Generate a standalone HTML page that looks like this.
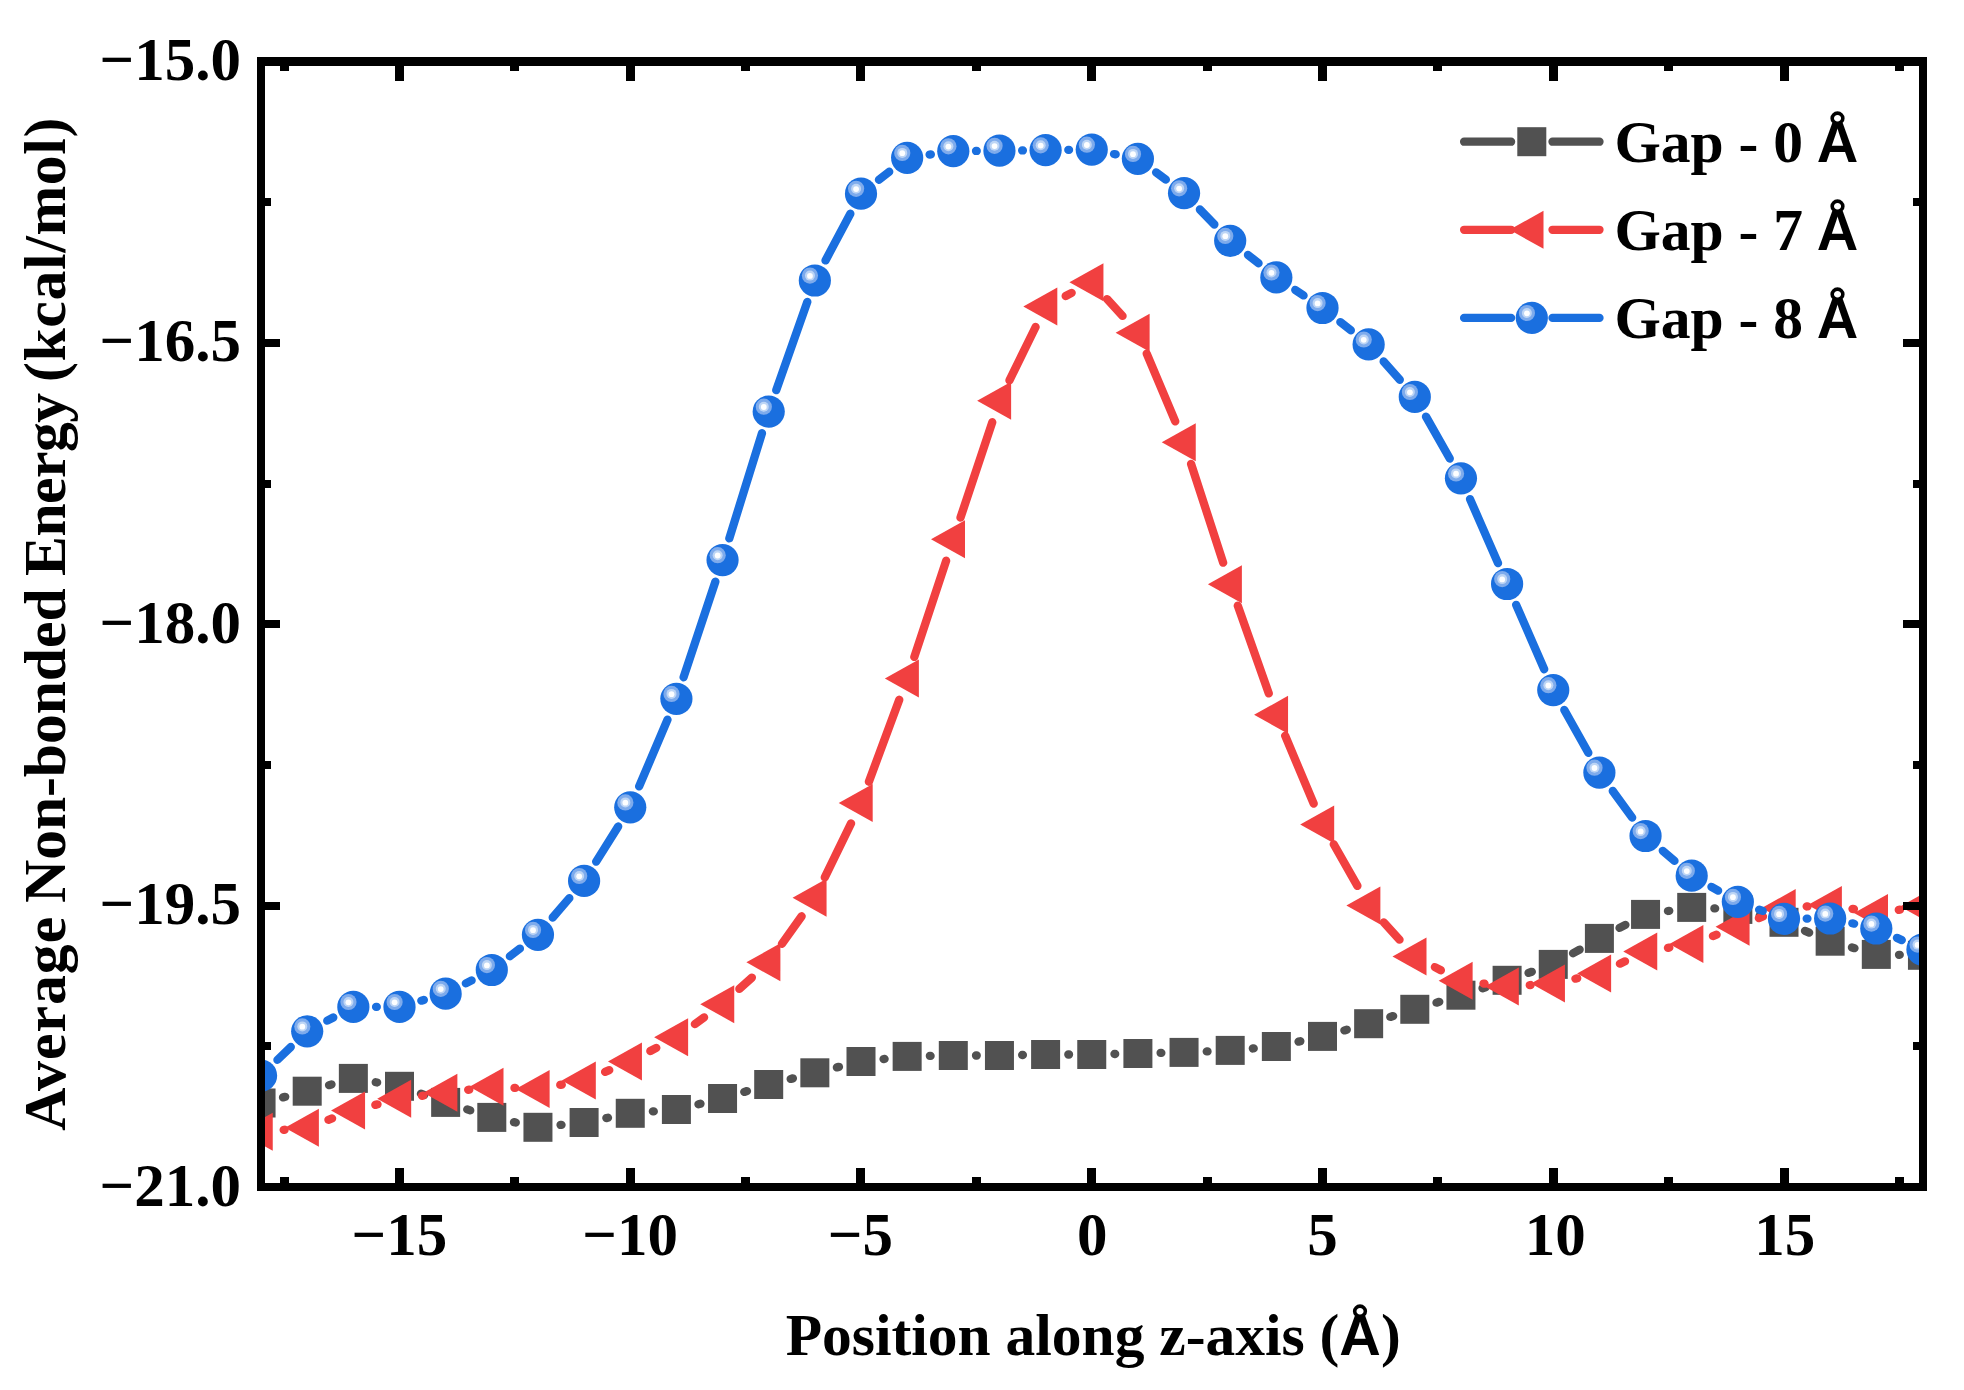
<!DOCTYPE html>
<html lang="en"><head><meta charset="utf-8"><title>Average Non-bonded Energy</title>
<style>html,body{margin:0;padding:0;background:#fff}body{width:1964px;height:1390px;overflow:hidden}svg{display:block}text{font-family:"Liberation Serif",serif;font-weight:bold;fill:#000}.sa{font-family:"Liberation Sans",sans-serif;font-weight:bold;font-size:57.5px}</style></head><body>
<svg width="1964" height="1390" viewBox="0 0 1964 1390">
<rect width="1964" height="1390" fill="#fff"/>
<defs><clipPath id="cp"><rect x="261" y="61.5" width="1662" height="1125.5"/></clipPath></defs>
<g clip-path="url(#cp)">
<path d="M283.04 1097.38L285.21 1096.82M329.07 1085.13L331.48 1084.47M375.72 1082.23L377.13 1082.47M420.93 1093.78L424.22 1094.92M467.24 1109.42L470.21 1110.38M514 1122.16L515.75 1122.54M560.53 1124.95L561.52 1124.85M606.36 1118.06L607.99 1117.74M652.87 1111.44L653.78 1111.36M698.48 1104.24L700.47 1103.76M744.27 1091.91L746.98 1091.09M790.7 1078.92L792.85 1078.38M836.9 1067.4L838.95 1066.9M883.56 1059.01L884.59 1058.89M929.85 1055.96L930.6 1055.94M976 1055.5L976.75 1055.5M1022.14 1055.01L1022.91 1054.99M1068.3 1054.5L1069.05 1054.5M1114.44 1054.01L1115.21 1053.99M1160.59 1052.96L1161.36 1052.94M1206.73 1051.42L1207.52 1051.38M1252.82 1048.49L1253.73 1048.41M1298.53 1041.65L1300.32 1041.25M1344.39 1030.38L1346.76 1029.72M1390.32 1016.94L1393.13 1016.06M1436.51 1002.67L1439.24 1001.83M1482.55 988.23L1485.5 987.27M1528.56 972.91L1531.79 971.79M1573.03 953.26L1579.62 949.54M1619.54 927.93L1625.41 924.87M1667.99 911L1669.26 910.8M1714.38 908.38L1715.17 908.42M1759.71 915.51L1762.14 916.19M1805.01 930.9L1809.14 932.6M1851.97 947.44L1854.48 948.16M1899 954.84L1899.75 954.86" fill="none" stroke="#515151" stroke-width="8.3" stroke-linecap="round"/>
<rect x="246.55" y="1088.5" width="29" height="29" fill="#515151"/><rect x="292.7" y="1076.7" width="29" height="29" fill="#515151"/><rect x="338.85" y="1063.9" width="29" height="29" fill="#515151"/><rect x="385" y="1071.8" width="29" height="29" fill="#515151"/><rect x="431.15" y="1087.9" width="29" height="29" fill="#515151"/><rect x="477.3" y="1102.9" width="29" height="29" fill="#515151"/><rect x="523.45" y="1112.8" width="29" height="29" fill="#515151"/><rect x="569.6" y="1108" width="29" height="29" fill="#515151"/><rect x="615.75" y="1098.8" width="29" height="29" fill="#515151"/><rect x="661.9" y="1095" width="29" height="29" fill="#515151"/><rect x="708.05" y="1084" width="29" height="29" fill="#515151"/><rect x="754.2" y="1070" width="29" height="29" fill="#515151"/><rect x="800.35" y="1058.3" width="29" height="29" fill="#515151"/><rect x="846.5" y="1047" width="29" height="29" fill="#515151"/><rect x="892.65" y="1041.9" width="29" height="29" fill="#515151"/><rect x="938.8" y="1041" width="29" height="29" fill="#515151"/><rect x="984.95" y="1041" width="29" height="29" fill="#515151"/><rect x="1031.1" y="1040" width="29" height="29" fill="#515151"/><rect x="1077.25" y="1040" width="29" height="29" fill="#515151"/><rect x="1123.4" y="1039" width="29" height="29" fill="#515151"/><rect x="1169.55" y="1037.9" width="29" height="29" fill="#515151"/><rect x="1215.7" y="1035.9" width="29" height="29" fill="#515151"/><rect x="1261.85" y="1032" width="29" height="29" fill="#515151"/><rect x="1308" y="1021.9" width="29" height="29" fill="#515151"/><rect x="1354.15" y="1009.2" width="29" height="29" fill="#515151"/><rect x="1400.3" y="994.8" width="29" height="29" fill="#515151"/><rect x="1446.45" y="980.7" width="29" height="29" fill="#515151"/><rect x="1492.6" y="965.8" width="29" height="29" fill="#515151"/><rect x="1538.75" y="949.9" width="29" height="29" fill="#515151"/><rect x="1584.9" y="923.9" width="29" height="29" fill="#515151"/><rect x="1631.05" y="899.9" width="29" height="29" fill="#515151"/><rect x="1677.2" y="892.9" width="29" height="29" fill="#515151"/><rect x="1723.35" y="894.9" width="29" height="29" fill="#515151"/><rect x="1769.5" y="907.8" width="29" height="29" fill="#515151"/><rect x="1815.65" y="926.7" width="29" height="29" fill="#515151"/><rect x="1861.8" y="939.9" width="29" height="29" fill="#515151"/><rect x="1907.95" y="940.8" width="29" height="29" fill="#515151"/>
<path d="M283.67 1129.84L284.58 1129.76M328.46 1119.83L332.09 1118.47M375.34 1104.88L377.51 1104.32M422.01 1095.77L423.14 1095.63M468.17 1089.82L469.28 1089.68M514.47 1087.93L515.28 1087.97M560.27 1084.94L561.78 1084.66M605.11 1071.9L609.24 1070.2M650.34 1051.02L656.31 1047.88M694.85 1024.07L704.1 1017.43M739.36 988.94L751.89 977.56M781.91 943.84L801.64 916.26M824.79 877.39L851.06 823.41M868.89 781.72L899.26 699.78M914.29 656.95L946.16 560.75M960.48 517.66L992.27 422.24M1009.45 380.32L1035.6 326.98M1065.69 296.02L1071.66 292.88M1107.08 299.04L1122.57 315.96M1146.71 353.62L1175.24 421.38M1191.07 463.89L1223.18 562.71M1237.77 605.7L1268.78 693.4M1285.15 735.73L1313.7 803.67M1333.74 844.32L1357.41 885.88M1383.9 922.42L1399.55 939.68M1434.89 967.08L1440.86 970.22M1483.48 983.58L1484.57 983.72M1529.76 985.08L1530.59 985.02M1575.42 978.7L1577.23 978.3M1619.93 963.7L1625.02 961.3M1667.95 947.91L1669.3 947.69M1712.96 936.03L1716.59 934.67M1758.89 918.18L1762.96 916.52M1806.65 906.48L1807.5 906.42M1852.51 908.82L1853.94 909.08M1898.78 909.88L1899.97 909.72" fill="none" stroke="#F14040" stroke-width="8.3" stroke-linecap="round"/>
<path d="M238.75 1131.8L272.75 1112.8L272.75 1150.8Z" fill="#F14040"/><path d="M284.9 1127.8L318.9 1108.8L318.9 1146.8Z" fill="#F14040"/><path d="M331.05 1110.5L365.05 1091.5L365.05 1129.5Z" fill="#F14040"/><path d="M377.2 1098.7L411.2 1079.7L411.2 1117.7Z" fill="#F14040"/><path d="M423.35 1092.7L457.35 1073.7L457.35 1111.7Z" fill="#F14040"/><path d="M469.5 1086.8L503.5 1067.8L503.5 1105.8Z" fill="#F14040"/><path d="M515.65 1089.1L549.65 1070.1L549.65 1108.1Z" fill="#F14040"/><path d="M561.8 1080.5L595.8 1061.5L595.8 1099.5Z" fill="#F14040"/><path d="M607.95 1061.6L641.95 1042.6L641.95 1080.6Z" fill="#F14040"/><path d="M654.1 1037.3L688.1 1018.3L688.1 1056.3Z" fill="#F14040"/><path d="M700.25 1004.2L734.25 985.2L734.25 1023.2Z" fill="#F14040"/><path d="M746.4 962.3L780.4 943.3L780.4 981.3Z" fill="#F14040"/><path d="M792.55 897.8L826.55 878.8L826.55 916.8Z" fill="#F14040"/><path d="M838.7 803L872.7 784L872.7 822Z" fill="#F14040"/><path d="M884.85 678.5L918.85 659.5L918.85 697.5Z" fill="#F14040"/><path d="M931 539.2L965 520.2L965 558.2Z" fill="#F14040"/><path d="M977.15 400.7L1011.15 381.7L1011.15 419.7Z" fill="#F14040"/><path d="M1023.3 306.6L1057.3 287.6L1057.3 325.6Z" fill="#F14040"/><path d="M1069.45 282.3L1103.45 263.3L1103.45 301.3Z" fill="#F14040"/><path d="M1115.6 332.7L1149.6 313.7L1149.6 351.7Z" fill="#F14040"/><path d="M1161.75 442.3L1195.75 423.3L1195.75 461.3Z" fill="#F14040"/><path d="M1207.9 584.3L1241.9 565.3L1241.9 603.3Z" fill="#F14040"/><path d="M1254.05 714.8L1288.05 695.8L1288.05 733.8Z" fill="#F14040"/><path d="M1300.2 824.6L1334.2 805.6L1334.2 843.6Z" fill="#F14040"/><path d="M1346.35 905.6L1380.35 886.6L1380.35 924.6Z" fill="#F14040"/><path d="M1392.5 956.5L1426.5 937.5L1426.5 975.5Z" fill="#F14040"/><path d="M1438.65 980.8L1472.65 961.8L1472.65 999.8Z" fill="#F14040"/><path d="M1484.8 986.5L1518.8 967.5L1518.8 1005.5Z" fill="#F14040"/><path d="M1530.95 983.6L1564.95 964.6L1564.95 1002.6Z" fill="#F14040"/><path d="M1577.1 973.4L1611.1 954.4L1611.1 992.4Z" fill="#F14040"/><path d="M1623.25 951.6L1657.25 932.6L1657.25 970.6Z" fill="#F14040"/><path d="M1669.4 944L1703.4 925L1703.4 963Z" fill="#F14040"/><path d="M1715.55 926.7L1749.55 907.7L1749.55 945.7Z" fill="#F14040"/><path d="M1761.7 908L1795.7 889L1795.7 927Z" fill="#F14040"/><path d="M1807.85 904.9L1841.85 885.9L1841.85 923.9Z" fill="#F14040"/><path d="M1854 913L1888 894L1888 932Z" fill="#F14040"/><path d="M1900.15 906.6L1934.15 887.6L1934.15 925.6Z" fill="#F14040"/>
<path d="M277.43 1059.88L290.82 1047.02M327.27 1020.69L333.28 1017.51M376.05 1006.9L376.8 1006.9M421.32 1000.66L423.83 999.94M465.84 983.33L471.61 980.37M509.85 956.23L519.9 948.57M552.71 917.56L569.34 898.14M596.16 861.67L618.19 826.53M639.14 786.41L667.51 719.69M683.57 677.26L715.38 581.64M729.29 538.42L761.96 433.28M776.24 390.19L807.31 301.91M825.51 260.46L850.34 213.74M878.92 179.76L889.23 171.74M929.62 154.59L930.83 154.41M976 150.95L976.75 150.95M1022.15 150.45L1022.9 150.45M1068.3 149.9L1069.05 149.9M1114.01 154.04L1115.64 154.36M1156.1 172.37L1165.85 179.63M1199.85 209.5L1214.4 224.5M1247.99 254.91L1258.56 263.29M1295.27 289.94L1303.58 295.46M1340.32 322.06L1350.83 330.34M1383.64 361.45L1399.81 379.85M1426 416.65L1449.75 458.55M1470.03 499.1L1498.02 563.2M1516.15 604.82L1544.2 669.28M1564.33 709.91L1588.32 752.79M1612.76 790.95L1632.19 817.65M1662.76 850.8L1674.49 860.9M1711.46 886.87L1718.09 890.63M1759.15 909.65L1762.7 910.95M1806.7 918.65L1807.45 918.65M1852.34 923.31L1854.11 923.69M1896.96 937.9L1901.79 940.1" fill="none" stroke="#1A6FDF" stroke-width="8.3" stroke-linecap="round"/>
<circle cx="261.05" cy="1075.6" r="16.1" fill="#1A6FDF"/><circle cx="256.15" cy="1070.7" r="8.1" fill="#7EABEC"/><circle cx="256.15" cy="1070.7" r="5" fill="#BDD5F5"/><circle cx="256.15" cy="1071" r="2.9" fill="#FDFEFF"/><circle cx="307.2" cy="1031.3" r="16.1" fill="#1A6FDF"/><circle cx="302.3" cy="1026.4" r="8.1" fill="#7EABEC"/><circle cx="302.3" cy="1026.4" r="5" fill="#BDD5F5"/><circle cx="302.3" cy="1026.7" r="2.9" fill="#FDFEFF"/><circle cx="353.35" cy="1006.9" r="16.1" fill="#1A6FDF"/><circle cx="348.45" cy="1002" r="8.1" fill="#7EABEC"/><circle cx="348.45" cy="1002" r="5" fill="#BDD5F5"/><circle cx="348.45" cy="1002.3" r="2.9" fill="#FDFEFF"/><circle cx="399.5" cy="1006.9" r="16.1" fill="#1A6FDF"/><circle cx="394.6" cy="1002" r="8.1" fill="#7EABEC"/><circle cx="394.6" cy="1002" r="5" fill="#BDD5F5"/><circle cx="394.6" cy="1002.3" r="2.9" fill="#FDFEFF"/><circle cx="445.65" cy="993.7" r="16.1" fill="#1A6FDF"/><circle cx="440.75" cy="988.8" r="8.1" fill="#7EABEC"/><circle cx="440.75" cy="988.8" r="5" fill="#BDD5F5"/><circle cx="440.75" cy="989.1" r="2.9" fill="#FDFEFF"/><circle cx="491.8" cy="970" r="16.1" fill="#1A6FDF"/><circle cx="486.9" cy="965.1" r="8.1" fill="#7EABEC"/><circle cx="486.9" cy="965.1" r="5" fill="#BDD5F5"/><circle cx="486.9" cy="965.4" r="2.9" fill="#FDFEFF"/><circle cx="537.95" cy="934.8" r="16.1" fill="#1A6FDF"/><circle cx="533.05" cy="929.9" r="8.1" fill="#7EABEC"/><circle cx="533.05" cy="929.9" r="5" fill="#BDD5F5"/><circle cx="533.05" cy="930.2" r="2.9" fill="#FDFEFF"/><circle cx="584.1" cy="880.9" r="16.1" fill="#1A6FDF"/><circle cx="579.2" cy="876" r="8.1" fill="#7EABEC"/><circle cx="579.2" cy="876" r="5" fill="#BDD5F5"/><circle cx="579.2" cy="876.3" r="2.9" fill="#FDFEFF"/><circle cx="630.25" cy="807.3" r="16.1" fill="#1A6FDF"/><circle cx="625.35" cy="802.4" r="8.1" fill="#7EABEC"/><circle cx="625.35" cy="802.4" r="5" fill="#BDD5F5"/><circle cx="625.35" cy="802.7" r="2.9" fill="#FDFEFF"/><circle cx="676.4" cy="698.8" r="16.1" fill="#1A6FDF"/><circle cx="671.5" cy="693.9" r="8.1" fill="#7EABEC"/><circle cx="671.5" cy="693.9" r="5" fill="#BDD5F5"/><circle cx="671.5" cy="694.2" r="2.9" fill="#FDFEFF"/><circle cx="722.55" cy="560.1" r="16.1" fill="#1A6FDF"/><circle cx="717.65" cy="555.2" r="8.1" fill="#7EABEC"/><circle cx="717.65" cy="555.2" r="5" fill="#BDD5F5"/><circle cx="717.65" cy="555.5" r="2.9" fill="#FDFEFF"/><circle cx="768.7" cy="411.6" r="16.1" fill="#1A6FDF"/><circle cx="763.8" cy="406.7" r="8.1" fill="#7EABEC"/><circle cx="763.8" cy="406.7" r="5" fill="#BDD5F5"/><circle cx="763.8" cy="407" r="2.9" fill="#FDFEFF"/><circle cx="814.85" cy="280.5" r="16.1" fill="#1A6FDF"/><circle cx="809.95" cy="275.6" r="8.1" fill="#7EABEC"/><circle cx="809.95" cy="275.6" r="5" fill="#BDD5F5"/><circle cx="809.95" cy="275.9" r="2.9" fill="#FDFEFF"/><circle cx="861" cy="193.7" r="16.1" fill="#1A6FDF"/><circle cx="856.1" cy="188.8" r="8.1" fill="#7EABEC"/><circle cx="856.1" cy="188.8" r="5" fill="#BDD5F5"/><circle cx="856.1" cy="189.1" r="2.9" fill="#FDFEFF"/><circle cx="907.15" cy="157.8" r="16.1" fill="#1A6FDF"/><circle cx="902.25" cy="152.9" r="8.1" fill="#7EABEC"/><circle cx="902.25" cy="152.9" r="5" fill="#BDD5F5"/><circle cx="902.25" cy="153.2" r="2.9" fill="#FDFEFF"/><circle cx="953.3" cy="151.2" r="16.1" fill="#1A6FDF"/><circle cx="948.4" cy="146.3" r="8.1" fill="#7EABEC"/><circle cx="948.4" cy="146.3" r="5" fill="#BDD5F5"/><circle cx="948.4" cy="146.6" r="2.9" fill="#FDFEFF"/><circle cx="999.45" cy="150.7" r="16.1" fill="#1A6FDF"/><circle cx="994.55" cy="145.8" r="8.1" fill="#7EABEC"/><circle cx="994.55" cy="145.8" r="5" fill="#BDD5F5"/><circle cx="994.55" cy="146.1" r="2.9" fill="#FDFEFF"/><circle cx="1045.6" cy="150.2" r="16.1" fill="#1A6FDF"/><circle cx="1040.7" cy="145.3" r="8.1" fill="#7EABEC"/><circle cx="1040.7" cy="145.3" r="5" fill="#BDD5F5"/><circle cx="1040.7" cy="145.6" r="2.9" fill="#FDFEFF"/><circle cx="1091.75" cy="149.6" r="16.1" fill="#1A6FDF"/><circle cx="1086.85" cy="144.7" r="8.1" fill="#7EABEC"/><circle cx="1086.85" cy="144.7" r="5" fill="#BDD5F5"/><circle cx="1086.85" cy="145" r="2.9" fill="#FDFEFF"/><circle cx="1137.9" cy="158.8" r="16.1" fill="#1A6FDF"/><circle cx="1133" cy="153.9" r="8.1" fill="#7EABEC"/><circle cx="1133" cy="153.9" r="5" fill="#BDD5F5"/><circle cx="1133" cy="154.2" r="2.9" fill="#FDFEFF"/><circle cx="1184.05" cy="193.2" r="16.1" fill="#1A6FDF"/><circle cx="1179.15" cy="188.3" r="8.1" fill="#7EABEC"/><circle cx="1179.15" cy="188.3" r="5" fill="#BDD5F5"/><circle cx="1179.15" cy="188.6" r="2.9" fill="#FDFEFF"/><circle cx="1230.2" cy="240.8" r="16.1" fill="#1A6FDF"/><circle cx="1225.3" cy="235.9" r="8.1" fill="#7EABEC"/><circle cx="1225.3" cy="235.9" r="5" fill="#BDD5F5"/><circle cx="1225.3" cy="236.2" r="2.9" fill="#FDFEFF"/><circle cx="1276.35" cy="277.4" r="16.1" fill="#1A6FDF"/><circle cx="1271.45" cy="272.5" r="8.1" fill="#7EABEC"/><circle cx="1271.45" cy="272.5" r="5" fill="#BDD5F5"/><circle cx="1271.45" cy="272.8" r="2.9" fill="#FDFEFF"/><circle cx="1322.5" cy="308" r="16.1" fill="#1A6FDF"/><circle cx="1317.6" cy="303.1" r="8.1" fill="#7EABEC"/><circle cx="1317.6" cy="303.1" r="5" fill="#BDD5F5"/><circle cx="1317.6" cy="303.4" r="2.9" fill="#FDFEFF"/><circle cx="1368.65" cy="344.4" r="16.1" fill="#1A6FDF"/><circle cx="1363.75" cy="339.5" r="8.1" fill="#7EABEC"/><circle cx="1363.75" cy="339.5" r="5" fill="#BDD5F5"/><circle cx="1363.75" cy="339.8" r="2.9" fill="#FDFEFF"/><circle cx="1414.8" cy="396.9" r="16.1" fill="#1A6FDF"/><circle cx="1409.9" cy="392" r="8.1" fill="#7EABEC"/><circle cx="1409.9" cy="392" r="5" fill="#BDD5F5"/><circle cx="1409.9" cy="392.3" r="2.9" fill="#FDFEFF"/><circle cx="1460.95" cy="478.3" r="16.1" fill="#1A6FDF"/><circle cx="1456.05" cy="473.4" r="8.1" fill="#7EABEC"/><circle cx="1456.05" cy="473.4" r="5" fill="#BDD5F5"/><circle cx="1456.05" cy="473.7" r="2.9" fill="#FDFEFF"/><circle cx="1507.1" cy="584" r="16.1" fill="#1A6FDF"/><circle cx="1502.2" cy="579.1" r="8.1" fill="#7EABEC"/><circle cx="1502.2" cy="579.1" r="5" fill="#BDD5F5"/><circle cx="1502.2" cy="579.4" r="2.9" fill="#FDFEFF"/><circle cx="1553.25" cy="690.1" r="16.1" fill="#1A6FDF"/><circle cx="1548.35" cy="685.2" r="8.1" fill="#7EABEC"/><circle cx="1548.35" cy="685.2" r="5" fill="#BDD5F5"/><circle cx="1548.35" cy="685.5" r="2.9" fill="#FDFEFF"/><circle cx="1599.4" cy="772.6" r="16.1" fill="#1A6FDF"/><circle cx="1594.5" cy="767.7" r="8.1" fill="#7EABEC"/><circle cx="1594.5" cy="767.7" r="5" fill="#BDD5F5"/><circle cx="1594.5" cy="768" r="2.9" fill="#FDFEFF"/><circle cx="1645.55" cy="836" r="16.1" fill="#1A6FDF"/><circle cx="1640.65" cy="831.1" r="8.1" fill="#7EABEC"/><circle cx="1640.65" cy="831.1" r="5" fill="#BDD5F5"/><circle cx="1640.65" cy="831.4" r="2.9" fill="#FDFEFF"/><circle cx="1691.7" cy="875.7" r="16.1" fill="#1A6FDF"/><circle cx="1686.8" cy="870.8" r="8.1" fill="#7EABEC"/><circle cx="1686.8" cy="870.8" r="5" fill="#BDD5F5"/><circle cx="1686.8" cy="871.1" r="2.9" fill="#FDFEFF"/><circle cx="1737.85" cy="901.8" r="16.1" fill="#1A6FDF"/><circle cx="1732.95" cy="896.9" r="8.1" fill="#7EABEC"/><circle cx="1732.95" cy="896.9" r="5" fill="#BDD5F5"/><circle cx="1732.95" cy="897.2" r="2.9" fill="#FDFEFF"/><circle cx="1784" cy="918.8" r="16.1" fill="#1A6FDF"/><circle cx="1779.1" cy="913.9" r="8.1" fill="#7EABEC"/><circle cx="1779.1" cy="913.9" r="5" fill="#BDD5F5"/><circle cx="1779.1" cy="914.2" r="2.9" fill="#FDFEFF"/><circle cx="1830.15" cy="918.5" r="16.1" fill="#1A6FDF"/><circle cx="1825.25" cy="913.6" r="8.1" fill="#7EABEC"/><circle cx="1825.25" cy="913.6" r="5" fill="#BDD5F5"/><circle cx="1825.25" cy="913.9" r="2.9" fill="#FDFEFF"/><circle cx="1876.3" cy="928.5" r="16.1" fill="#1A6FDF"/><circle cx="1871.4" cy="923.6" r="8.1" fill="#7EABEC"/><circle cx="1871.4" cy="923.6" r="5" fill="#BDD5F5"/><circle cx="1871.4" cy="923.9" r="2.9" fill="#FDFEFF"/><circle cx="1922.45" cy="949.5" r="16.1" fill="#1A6FDF"/><circle cx="1917.55" cy="944.6" r="8.1" fill="#7EABEC"/><circle cx="1917.55" cy="944.6" r="5" fill="#BDD5F5"/><circle cx="1917.55" cy="944.9" r="2.9" fill="#FDFEFF"/>
</g>
<path d="M280 65H289V71H280ZM280 1177H289V1184H280ZM395 65H404V81H395ZM395 1168H404V1184H395ZM510 65H519V71H510ZM510 1177H519V1184H510ZM626 65H635V81H626ZM626 1168H635V1184H626ZM741 65H750V71H741ZM741 1177H750V1184H741ZM856 65H865V81H856ZM856 1168H865V1184H856ZM972 65H981V71H972ZM972 1177H981V1184H972ZM1087 65H1096V81H1087ZM1087 1168H1096V1184H1087ZM1203 65H1212V71H1203ZM1203 1177H1212V1184H1203ZM1318 65H1327V81H1318ZM1318 1168H1327V1184H1318ZM1433 65H1442V71H1433ZM1433 1177H1442V1184H1433ZM1549 65H1558V81H1549ZM1549 1168H1558V1184H1549ZM1664 65H1673V71H1664ZM1664 1177H1673V1184H1664ZM1780 65H1789V81H1780ZM1780 1168H1789V1184H1780ZM1895 65H1904V71H1895ZM1895 1177H1904V1184H1895ZM264 198H271V206H264ZM1913 198H1920V206H1913ZM264 339H280V347H264ZM1903 339H1920V347H1903ZM264 480H271V488H264ZM1913 480H1920V488H1913ZM264 620H280V628H264ZM1903 620H1920V628H1903ZM264 761H271V769H264ZM1913 761H1920V769H1913ZM264 902H280V910H264ZM1903 902H1920V910H1903ZM264 1042H271V1050H264ZM1913 1042H1920V1050H1913ZM257 57H1927V66H257ZM257 1183H1927V1191H257ZM257 57H265V1191H257ZM1919 57H1927V1191H1919Z" fill="#000" shape-rendering="crispEdges"/>
<g font-size="61" text-anchor="end">
<text x="241" y="80.1">−15.0</text>
<text x="241" y="361.48">−16.5</text>
<text x="241" y="642.85">−18.0</text>
<text x="241" y="924.23">−19.5</text>
<text x="241" y="1205.6">−21.0</text>
</g>
<g font-size="61" text-anchor="middle">
<text x="399.3" y="1255.3">−15</text>
<text x="630.25" y="1255.3">−10</text>
<text x="860.5" y="1255.3">−5</text>
<text x="1092.25" y="1255.3">0</text>
<text x="1322.5" y="1255.3">5</text>
<text x="1555.25" y="1255.3">10</text>
<text x="1784.8" y="1255.3">15</text>
</g>
<text x="1093.2" y="1354.7" font-size="59.5" text-anchor="middle">Position along z-axis (<tspan class="sa">Å</tspan>)</text>
<text transform="translate(64.5 0) rotate(-90)" font-size="59.8" xml:space="preserve"><tspan x="-1130.76" letter-spacing="1">Average </tspan><tspan x="-902.92" letter-spacing="-0.13">Non-bonded </tspan><tspan x="-575.91" letter-spacing="-0.6">Energy </tspan><tspan x="-382.04" letter-spacing="0.6">(kcal/mol)</tspan></text>
<path d="M1464.1 141.7H1511.1M1552.5 141.7H1599.5" stroke="#515151" stroke-width="8.3" stroke-linecap="round" fill="none"/>
<rect x="1517.3" y="127.2" width="29" height="29" fill="#515151"/>
<text x="1614.4" y="161.7" font-size="59.6">Gap - 0 <tspan class="sa" dx="-1.2">Å</tspan></text>
<path d="M1464.1 229.8H1511.1M1552.5 229.8H1599.5" stroke="#F14040" stroke-width="8.3" stroke-linecap="round" fill="none"/>
<path d="M1509.5 229.8L1543.5 210.8L1543.5 248.8Z" fill="#F14040"/>
<text x="1614.4" y="249.9" font-size="59.6">Gap - 7 <tspan class="sa" dx="-1.2">Å</tspan></text>
<path d="M1464.1 317.9H1511.1M1552.5 317.9H1599.5" stroke="#1A6FDF" stroke-width="8.3" stroke-linecap="round" fill="none"/>
<circle cx="1531.8" cy="317.9" r="16.1" fill="#1A6FDF"/><circle cx="1526.9" cy="313" r="8.1" fill="#7EABEC"/><circle cx="1526.9" cy="313" r="5" fill="#BDD5F5"/><circle cx="1526.9" cy="313.3" r="2.9" fill="#FDFEFF"/>
<text x="1614.4" y="338.1" font-size="59.6">Gap - 8 <tspan class="sa" dx="-1.2">Å</tspan></text>
</svg></body></html>
